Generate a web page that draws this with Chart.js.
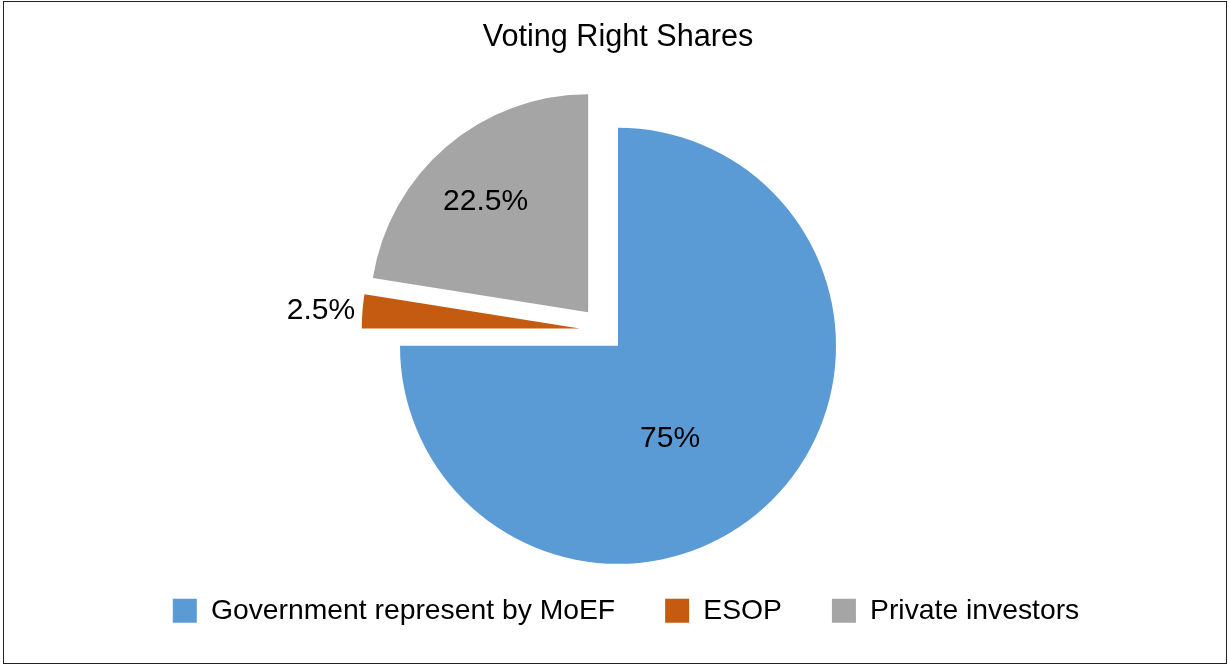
<!DOCTYPE html>
<html>
<head>
<meta charset="utf-8">
<script src="https://cdn.jsdelivr.net/npm/chart.js@4/dist/chart.umd.min.js"></script>
<style>
  html, body { margin: 0; padding: 0; background: #ffffff; }
  #wrap { position: relative; width: 1229px; height: 666px; }
</style>
</head>
<body>
<div id="wrap"><canvas id="c" width="1229" height="666"></canvas></div>
<script>
// ---- data ----
const titleText = 'Voting Right Shares';
const categories = ['Government represent by MoEF', 'ESOP', 'Private investors'];
const shares = [75, 2.5, 22.5];

// ---- style ----
const sliceColors = ['#5B9BD5', '#C55A11', '#A5A5A5'];
const explodeDist = [0, 42, 45];        // px pulled out from centre
const explodeTurn = [0, 20, -1];        // degrees turned from the slice bisector
const labelRadius = [0.49, 1.19, 0.69]; // fraction of radius
const labelTurn = [15.8, -0.6, -2.5];   // degrees turned from the slice bisector
const legendShift = 8;
const FONT = '"Liberation Sans", Arial, Helvetica, sans-serif';

function explodeVec(arc, i) {
  const mid = (arc.startAngle + arc.endAngle) / 2 + explodeTurn[i] * Math.PI / 180;
  return { dx: Math.cos(mid) * explodeDist[i], dy: Math.sin(mid) * explodeDist[i] };
}

const frame = {
  id: 'frame',
  beforeDraw(chart) {
    const ctx = chart.ctx;
    ctx.save();
    ctx.fillStyle = '#ffffff';
    ctx.fillRect(0, 0, chart.width, chart.height);
    ctx.strokeStyle = '#222222';
    ctx.lineWidth = 1;
    ctx.strokeRect(3.5, 1.5, 1223, 662);
    ctx.restore();
  }
};

const nudgeLegend = {
  id: 'nudgeLegend',
  afterLayout(chart) {
    if (chart.legend) {
      chart.legend.left += legendShift;
      chart.legend.right += legendShift;
    }
  }
};

const explode = {
  id: 'explode',
  beforeDatasetsDraw(chart) {
    const meta = chart.getDatasetMeta(0);
    meta.data.forEach((arc, i) => {
      if (arc._exploded) return;
      arc._exploded = true;
      const orig = arc.draw;
      arc.draw = function (ctx) {
        const v = explodeVec(this, i);
        ctx.save();
        ctx.translate(v.dx, v.dy);
        orig.call(this, ctx);
        ctx.restore();
      };
    });
  }
};

const pctLabels = {
  id: 'pctLabels',
  afterDatasetsDraw(chart) {
    const ctx = chart.ctx;
    const meta = chart.getDatasetMeta(0);
    const data = chart.data.datasets[0].data;
    const total = data.reduce((a, b) => a + b, 0);
    ctx.save();
    ctx.font = '30px ' + FONT;
    ctx.fillStyle = '#000000';
    ctx.textAlign = 'center';
    ctx.textBaseline = 'middle';
    meta.data.forEach((arc, i) => {
      const p = arc.getProps(['x', 'y', 'startAngle', 'endAngle', 'outerRadius'], true);
      const v = explodeVec(p, i);
      const ang = (p.startAngle + p.endAngle) / 2 + labelTurn[i] * Math.PI / 180;
      const r = p.outerRadius * labelRadius[i];
      const x = p.x + v.dx + Math.cos(ang) * r;
      const y = p.y + v.dy + Math.sin(ang) * r;
      const pct = Math.round(data[i] / total * 1000) / 10;
      ctx.fillText(pct + '%', x, y);
    });
    ctx.restore();
  }
};

new Chart(document.getElementById('c'), {
  type: 'pie',
  data: {
    labels: categories,
    datasets: [{
      data: shares,
      backgroundColor: sliceColors,
      borderWidth: 0
    }]
  },
  options: {
    responsive: false,
    animation: false,
    radius: 218,
    layout: { padding: { top: 0, left: 10, right: 3, bottom: 31 } },
    plugins: {
      title: {
        display: true,
        text: titleText,
        color: '#000000',
        font: { family: FONT, size: 30.6, weight: 'normal' },
        padding: { top: 19, bottom: 89.3 }
      },
      legend: {
        position: 'bottom',
        labels: {
          color: '#000000',
          font: { family: FONT, size: 28.3 },
          boxWidth: 24,
          boxHeight: 24,
          padding: 50
        }
      },
      tooltip: { enabled: false }
    }
  },
  plugins: [frame, nudgeLegend, explode, pctLabels]
});
</script>
</body>
</html>
